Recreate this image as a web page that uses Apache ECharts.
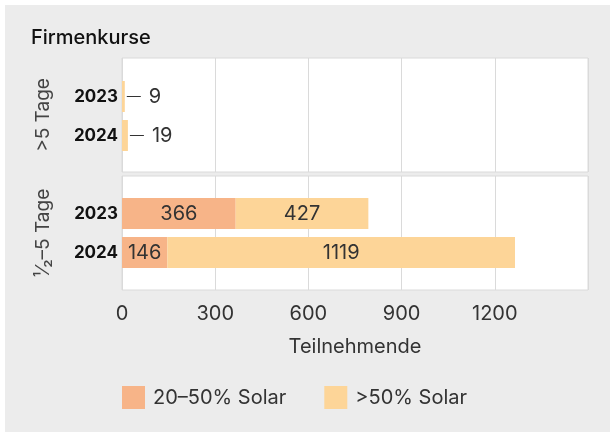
<!DOCTYPE html>
<html>
<head>
<meta charset="utf-8">
<script src="https://cdn.jsdelivr.net/npm/echarts@6/dist/echarts.min.js"></script>
<style>
  html, body { margin: 0; padding: 0; background: #fff; }
  #chart { width: 610px; height: 432px; }
</style>
</head>
<body>
<div id="chart"></div>
<script>
  // Daten
  const years = ['2023', '2024'];
  const facets = ['>5 Tage', '\u00b9\u2044\u2082\u20135 Tage'];
  const seriesNames = ['20\u201350% Solar', '>50% Solar'];
  // >5 Tage: nur >50% Solar
  const longSolarHigh = [9, 19];
  // 1/2-5 Tage
  const shortSolarMid = [366, 146];
  const shortSolarHigh = [427, 1119];
  const xTicks = [0, 300, 600, 900, 1200];

  const colMid = '#f7b488';
  const colHigh = '#fdd598';
  const font = 'Inter, "Noto Sans", sans-serif';
  const gridCol = '#dadada';

  const chart = echarts.init(document.getElementById('chart'));

  const panelLeft = 122, panelWidth = 466;

  function outerX(idx, showLabels) {
    return {
      type: 'value', gridIndex: idx, min: 0, max: 1500, interval: 300,
      axisLine: {show: false}, axisTick: {show: false},
      splitLine: {show: true, lineStyle: {color: gridCol, width: 1}},
      axisLabel: {
        show: showLabels, margin: 14, fontFamily: font, fontSize: 20, color: '#333',
        formatter: v => xTicks.includes(v) ? String(v) : ''
      },
      name: showLabels ? 'Teilnehmende' : '',
      nameLocation: 'middle', nameGap: 47,
      nameTextStyle: {fontFamily: font, fontSize: 20, color: '#333'}
    };
  }
  function outerY(idx, label) {
    return {
      type: 'value', gridIndex: idx, min: 0, max: 1,
      axisLine: {show: false}, axisTick: {show: false},
      axisLabel: {show: false}, splitLine: {show: false},
      name: label, nameLocation: 'middle', nameRotate: 90, nameGap: 69,
      nameTextStyle: {fontFamily: font, fontSize: 19, color: '#444'}
    };
  }
  function innerX(idx) {
    return {type: 'value', gridIndex: idx, min: 0, max: 1500, show: false};
  }
  function innerY(idx) {
    return {
      type: 'category', gridIndex: idx, data: years, inverse: true,
      axisLine: {show: false}, axisTick: {show: false},
      axisLabel: {margin: 4, fontFamily: font, fontSize: 17, fontWeight: 'bold', color: '#111'}
    };
  }

  const outsideLabel = {
    show: true, position: 'right', distance: 2,
    formatter: p => '{l|}{v|' + p.value + '}',
    rich: {
      l: {width: 14, height: 1, backgroundColor: '#333'},
      v: {fontFamily: font, fontSize: 20, color: '#333', padding: [0, 0, 0, 8]}
    }
  };
  const insideLabel = {
    show: true, position: 'inside', fontFamily: font, fontSize: 20, color: '#333'
  };

  chart.setOption({
    animation: false,
    backgroundColor: '#fff',
    graphic: [{
      type: 'rect', z: -10, silent: true,
      shape: {x: 5, y: 5, width: 605, height: 427},
      style: {fill: '#ececec'}
    }],
    title: {
      text: 'Firmenkurse', left: 31, top: 28, padding: 0,
      textStyle: {fontFamily: font, fontSize: 20, fontWeight: 500, color: '#111'}
    },
    legend: {
      data: seriesNames, left: 122, top: 386, padding: 0,
      icon: 'rect', itemWidth: 23, itemHeight: 23, itemGap: 38,
      textStyle: {fontFamily: font, fontSize: 20, color: '#333', padding: [0, 0, 0, 3]}
    },
    grid: [
      {left: panelLeft, width: panelWidth, top: 58, height: 114, show: true,
        backgroundColor: '#fff', borderColor: gridCol, borderWidth: 1},
      {left: panelLeft, width: panelWidth, top: 176, height: 114, show: true,
        backgroundColor: '#fff', borderColor: gridCol, borderWidth: 1},
      {left: panelLeft, width: panelWidth, top: 77, height: 78},
      {left: panelLeft, width: panelWidth, top: 194, height: 78}
    ],
    xAxis: [outerX(0, false), outerX(1, true), innerX(2), innerX(3)],
    yAxis: [outerY(0, facets[0]), outerY(1, facets[1]), innerY(2), innerY(3)],
    series: [
      {name: seriesNames[1], type: 'bar', xAxisIndex: 2, yAxisIndex: 2,
        barWidth: 31, data: longSolarHigh, itemStyle: {color: colHigh}, label: outsideLabel},
      {name: seriesNames[0], type: 'bar', xAxisIndex: 3, yAxisIndex: 3, stack: 'kurz',
        barWidth: 31, data: shortSolarMid, itemStyle: {color: colMid}, label: insideLabel},
      {name: seriesNames[1], type: 'bar', xAxisIndex: 3, yAxisIndex: 3, stack: 'kurz',
        barWidth: 31, data: shortSolarHigh, itemStyle: {color: colHigh}, label: insideLabel}
    ]
  });
</script>
</body>
</html>
